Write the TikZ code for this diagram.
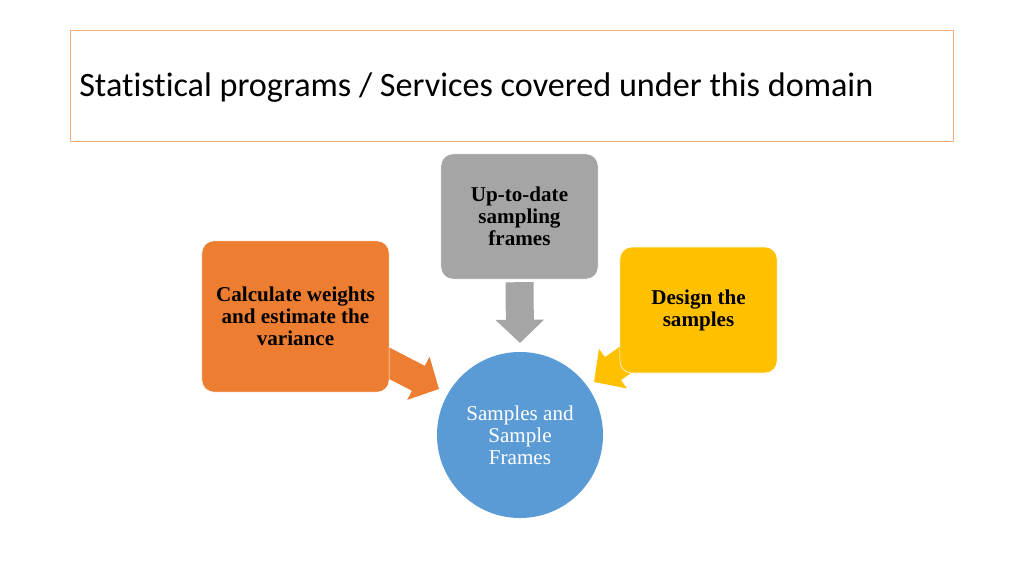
\documentclass[tikz,border=0pt]{standalone}
\usepackage{fontspec}
\setmainfont{Liberation Serif}
\newfontfamily\titlefont[Ligatures=NoCommon]{Carlito}
\usetikzlibrary{arrows.meta, positioning}
\definecolor{boxorange}{HTML}{ED7D31}
\definecolor{boxgray}{HTML}{A5A5A5}
\definecolor{boxyellow}{HTML}{FFC000}
\definecolor{boxblue}{HTML}{5B9BD5}
\definecolor{titleline}{HTML}{F4B183}

\begin{document}
\begin{tikzpicture}[
    x=0.025cm, y=-0.025cm,
    card/.style = {rectangle, draw=white, thin, rounded corners=0.3cm, align=center, font=\fontsize{15}{15.6}\selectfont\bfseries, text=black, inner sep=0pt},
    hub/.style = {circle, fill=boxblue, draw=none, align=center, font=\fontsize{15}{15.6}\selectfont, text=white, minimum size=4.15cm, inner sep=0pt},
    blockarrow/.style = {line width=0.7cm, -{Triangle[length=0.58cm, width=1.18cm]}}
]
\useasboundingbox (0,0) rectangle (1024,576);

% Title frame
\draw [titleline, line width=0.6pt] (70,30) rectangle (953,141);
\node (title) [anchor=base west, inner sep=0pt, font=\titlefont\fontsize{24.3}{28}\selectfont] at (79,96.5) {Statistical programs / Services covered under this domain};

% Arrow end points
\coordinate (tipframes) at (520,343);
\coordinate (tailweights) at (383,360);
\coordinate (tipweights) at (439,389);
\coordinate (taildesign) at (645,346);
\coordinate (tipdesign) at (594,382);

% Block arrows (drawn first, boxes cover their tails)
\draw [blockarrow, boxorange] (tailweights) -- (tipweights);
\draw [blockarrow, boxyellow] (taildesign) -- (tipdesign);

% Boxes
\node (frames) [card, fill=boxgray, minimum width=3.93cm, minimum height=3.13cm] at (519.5,216.5) {Up-to-date\\sampling\\frames};
\node (weights) [card, fill=boxorange, minimum width=4.68cm, minimum height=3.78cm] at (295.5,316.5) {Calculate weights\\and estimate the\\variance};
\node (design) [card, fill=boxyellow, minimum width=3.93cm, minimum height=3.15cm] at (698.5,310) {Design the\\samples};

\draw [blockarrow, boxgray, shorten <=2pt] (frames.south) -- (tipframes);

% Centre circle
\node (samples) [hub] at (520,435) {Samples and\\Sample\\Frames};

\end{tikzpicture}
\end{document}
